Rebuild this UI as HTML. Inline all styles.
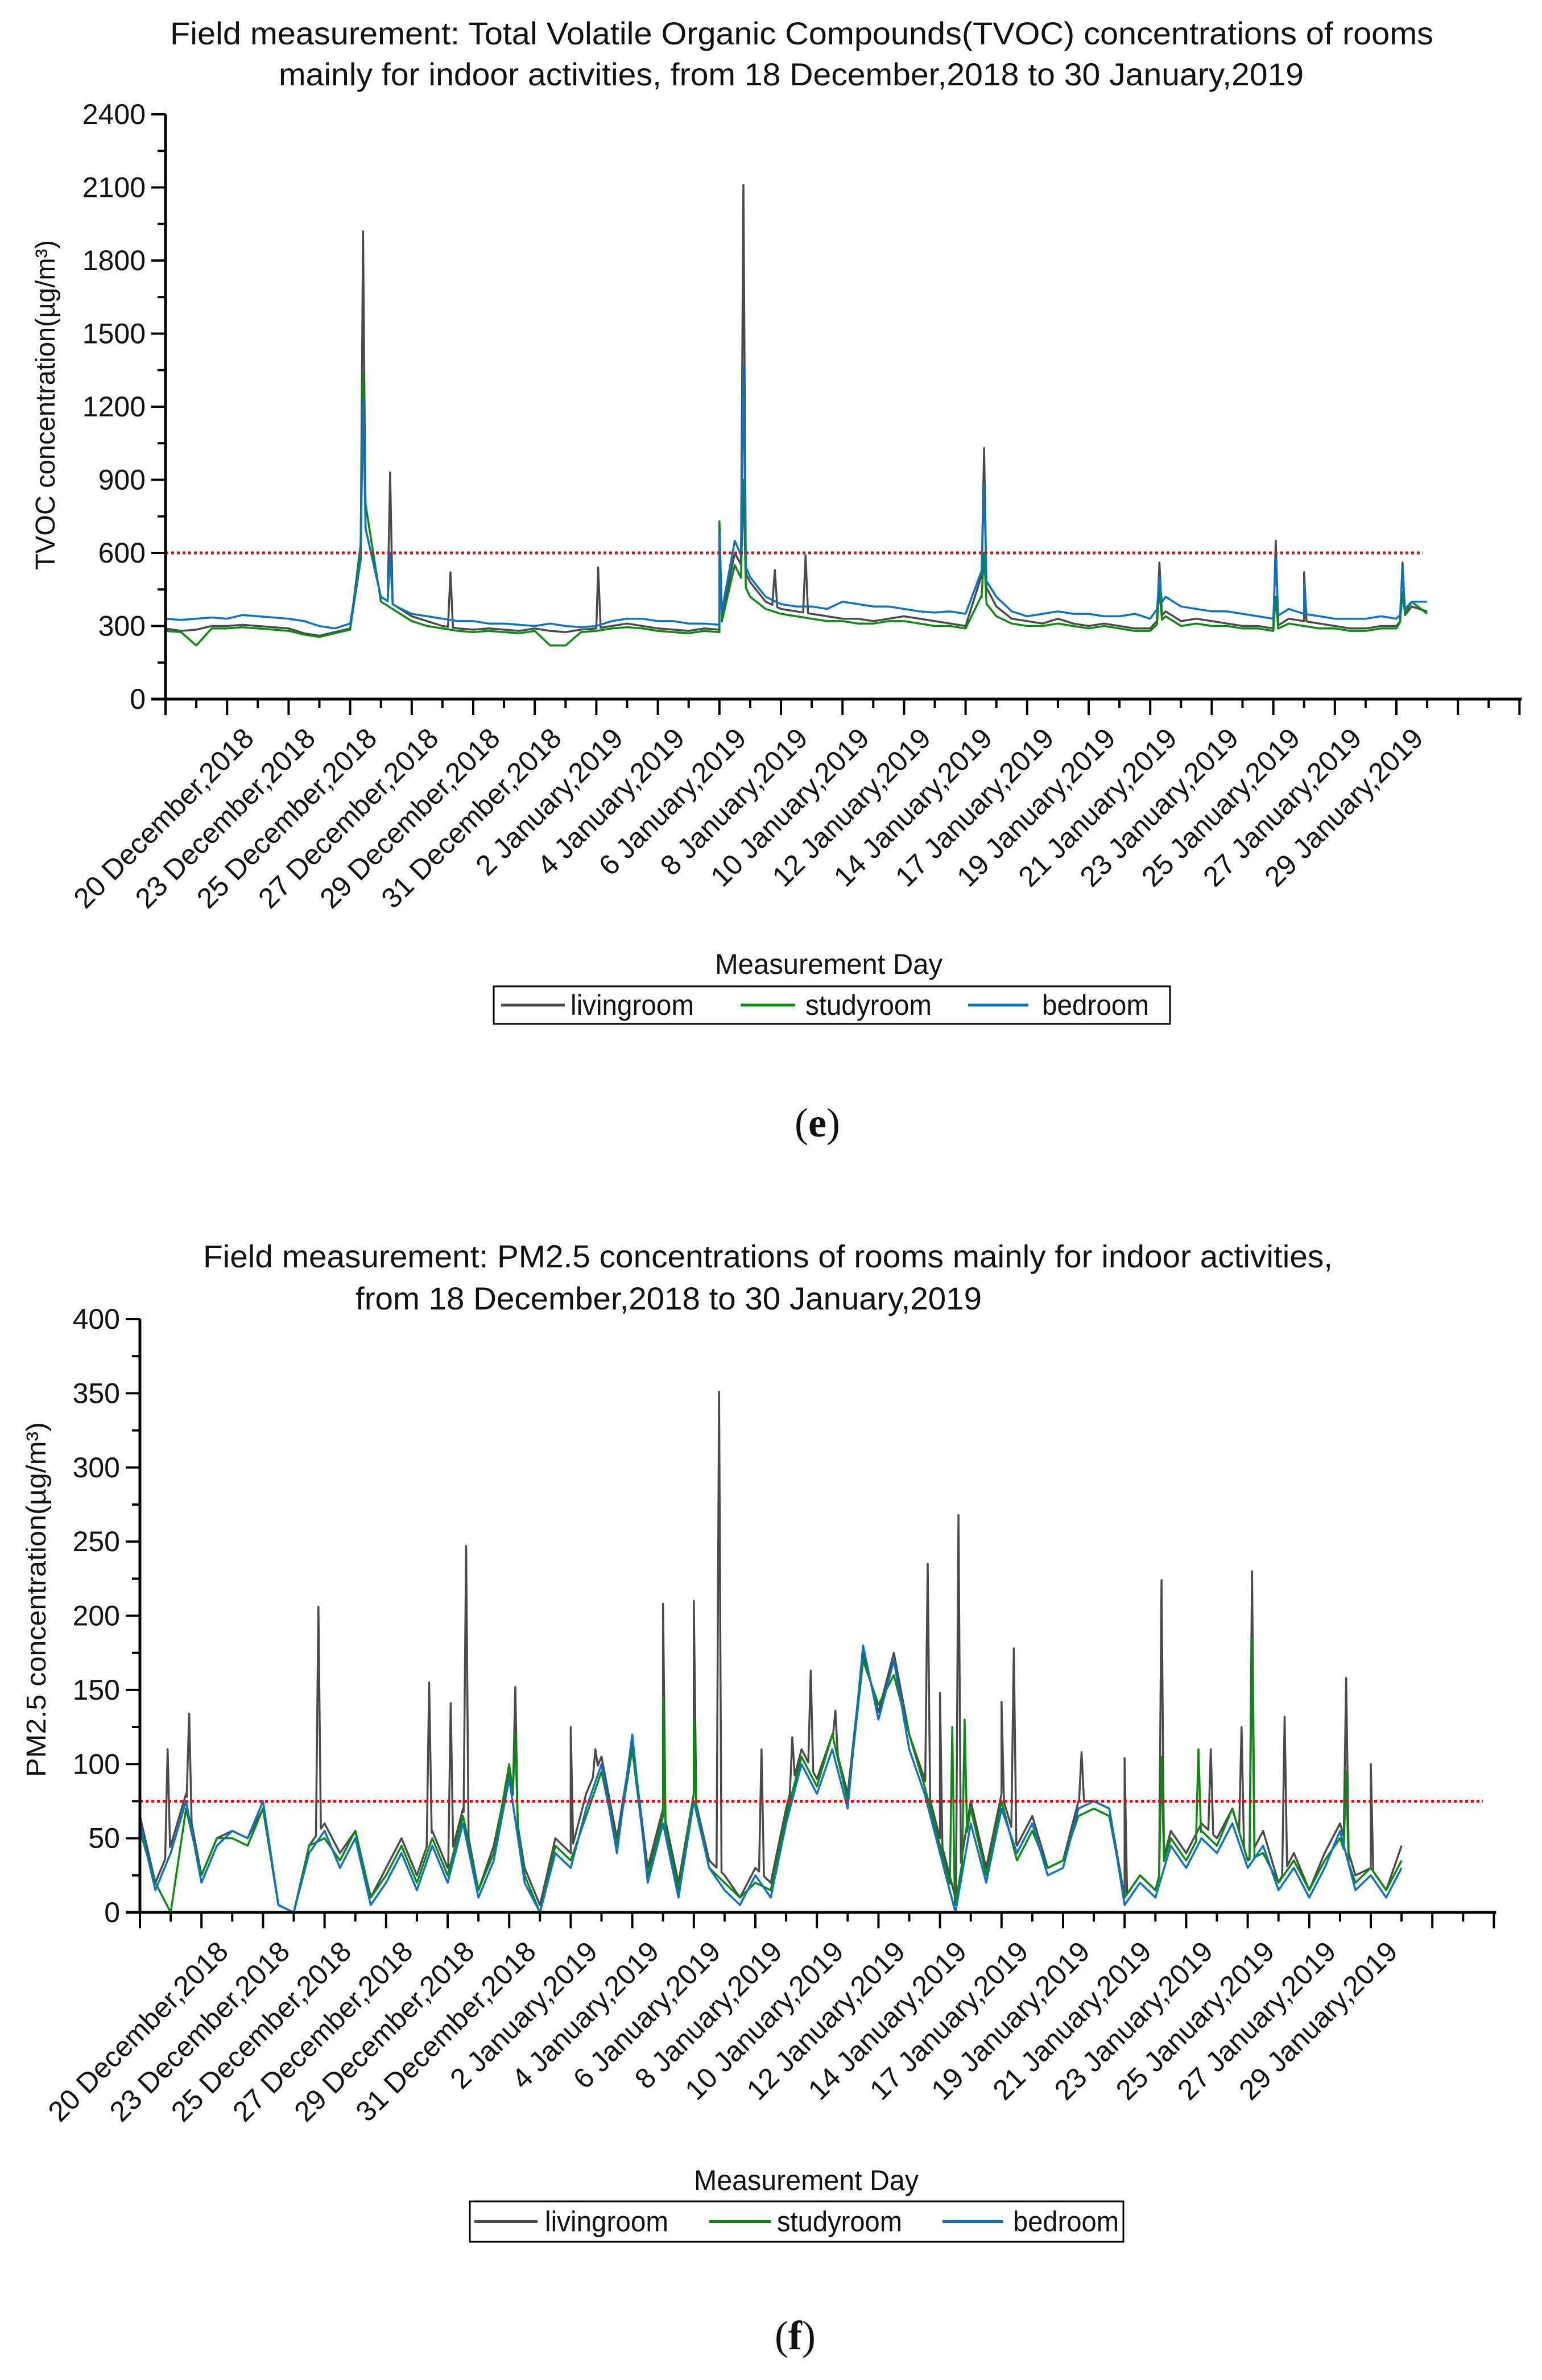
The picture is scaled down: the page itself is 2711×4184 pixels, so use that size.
<!DOCTYPE html>
<html><head><meta charset="utf-8">
<style>
html,body{margin:0;padding:0;background:#fff;}
svg{display:block;font-family:"Liberation Sans Narrow","Liberation Sans",sans-serif;}
</style></head>
<body>
<svg id="root" width="2711" height="4184" viewBox="0 0 2711 4184" xmlns="http://www.w3.org/2000/svg">
<g id="chartE"></g>
<g id="chartF"></g>
</svg>
<script>
// ---------- Shared axis labels ----------
const xTickLabels = ["20 December,2018","23 December,2018","25 December,2018","27 December,2018","29 December,2018","31 December,2018","2 January,2019","4 January,2019","6 January,2019","8 January,2019","10 January,2019","12 January,2019","14 January,2019","17 January,2019","19 January,2019","21 January,2019","23 January,2019","25 January,2019","27 January,2019","29 January,2019"];

// ---------- TVOC data (values every 0.25 tick-interval) ----------
const tvocYTicks = [0,300,600,900,1200,1500,1800,2100,2400];
const tvocLiving = [290,280,285,300,300,305,300,295,290,270,260,275,290,700,420,380,340,320,300,290,285,290,285,280,290,280,275,285,290,300,310,300,290,285,280,290,285,600,480,400,370,360,350,340,330,330,320,330,340,330,320,310,300,500,380,330,320,310,330,310,300,310,300,290,290,360,320,330,320,310,300,300,290,330,320,310,300,290,290,300,300,380,360];
const tvocStudy = [280,275,220,290,290,295,290,285,280,265,255,270,285,800,400,360,320,300,290,280,275,280,275,270,280,220,220,275,280,290,295,290,280,275,270,280,275,550,420,370,350,340,330,320,320,310,310,320,320,310,300,300,290,420,340,310,300,300,310,300,290,300,290,280,280,340,300,310,300,300,290,290,280,310,300,290,290,280,280,290,290,400,350];
const tvocBed = [330,325,330,335,330,345,340,335,330,320,300,290,310,700,420,380,350,340,330,320,320,310,310,305,300,310,300,295,300,320,330,330,320,320,310,310,305,650,500,420,390,380,380,370,400,390,380,380,370,360,355,360,350,520,420,360,340,350,360,350,350,340,340,350,330,420,380,370,360,360,350,340,330,370,350,340,330,330,330,340,330,400,400];
const tvocLivingSpikeT = [3.21,3.65,4.63,7.03,9.0,9.39,9.9,10.4,13.3,16.15,18.04,18.5,20.1];
const tvocLivingSpikeV = [1920,930,520,540,720,2110,530,590,1030,560,650,520,560];
const tvocStudySpikeT = [3.21,9.0,9.39,13.3,16.15,18.04,20.1];
const tvocStudySpikeV = [1340,730,900,600,450,420,440];
const tvocBedSpikeT = [3.21,3.65,9.0,9.39,13.3,16.15,18.04,18.5,20.1];
const tvocBedSpikeV = [1230,600,680,1370,880,500,580,470,540];
const tvocLimit = 600;

// ---------- PM2.5 data ----------
const pmYTicks = [0,50,100,150,200,250,300,350,400];
const pmBed = [60,15,40,75,20,45,55,50,75,5,0,40,55,30,50,5,20,40,15,45,20,60,10,35,90,20,0,40,30,70,100,40,120,20,60,10,75,30,15,5,25,10,60,100,80,110,70,180,130,170,110,80,40,0,60,20,70,40,60,25,30,70,75,70,5,20,10,45,30,50,40,60,30,45,15,30,10,30,55,15,25,10,30];
const pmStudy = [55,20,0,70,25,50,50,45,70,5,0,45,50,35,55,10,25,45,20,50,25,65,15,40,100,25,0,45,35,65,95,45,110,25,65,15,80,30,20,10,20,15,65,105,85,120,75,170,140,160,120,85,45,5,70,25,75,35,55,30,35,65,70,65,10,25,15,50,35,55,45,70,35,40,20,35,15,35,50,20,30,15,35];
const pmLiving = [65,20,45,80,25,50,55,50,70,5,0,45,60,40,55,10,30,50,25,55,30,70,15,45,95,30,5,50,40,80,105,50,115,30,70,20,80,35,25,10,30,20,70,110,90,120,80,175,135,175,120,90,50,10,75,30,80,45,65,30,35,75,75,70,10,25,15,55,40,60,50,70,35,55,20,40,15,40,60,25,30,15,45];
const pmLivingSpikeT = [0.45,0.8,2.9,4.7,5.05,5.3,6.1,7.0,7.4,8.5,9.0,9.41,10.1,10.6,10.9,11.3,12.8,13.0,13.3,14.0,14.2,15.3,16.0,16.6,17.4,17.9,18.07,18.6,19.6,20.0];
const pmLivingSpikeV = [110,134,206,155,141,247,152,125,110,208,210,351,110,118,163,136,235,148,268,142,178,108,104,224,110,125,230,132,158,100];
const pmStudySpikeT = [6.1,8.5,9.0,13.2,13.4,16.6,17.2,18.07,19.6];
const pmStudySpikeV = [120,145,130,125,130,105,110,185,95];
const pmLimit = 75;

const NS = "http://www.w3.org/2000/svg";
function mk(parent, tag, attrs, text){
  const el = document.createElementNS(NS, tag);
  for (const k in attrs) el.setAttribute(k, attrs[k]);
  if (text !== undefined) el.textContent = text;
  parent.appendChild(el);
  return el;
}
function mergeSeries(base, sT, sV){
  const pts = base.map((v,i)=>[i*0.25, v]);
  const baseAt = t => { const i=Math.min(Math.floor(t/0.25), base.length-2); const f=t/0.25-i; return base[i]*(1-f)+base[i+1]*f; };
  sT.forEach((t,k)=>{ pts.push([t-0.04, baseAt(t-0.04)]); pts.push([t, sV[k]]); pts.push([t+0.04, baseAt(t+0.04)]); });
  pts.sort((a,b)=>a[0]-b[0]);
  return pts;
}

function drawChart(g, cfg){
  const xs = t => cfg.x0 + t*cfg.dx;
  const ys = v => cfg.y0 - (v/cfg.ymax)*(cfg.y0-cfg.y1);
  cfg.titles.forEach(tt=>{
    const el = mk(g,'text',{x:tt.x,y:tt.y,'font-size':56,textLength:tt.w,lengthAdjust:'spacingAndGlyphs',fill:'#111'}, tt.s);
    
    
  });
  const colors = {living:'#4a4a4a', study:'#0a8a10', bed:'#0b72c4'};
  cfg.series.forEach(s=>{
    const pts = mergeSeries(s.base, s.sT, s.sV);
    const d = pts.map((p,i)=>(i?'L':'M')+xs(p[0]).toFixed(1)+' '+ys(p[1]).toFixed(1)).join(' ');
    const p = mk(g,'path',{d:d,fill:'none',stroke:colors[s.key],'stroke-width':3.5,'stroke-linejoin':'round'});
    
    
  });
  const lim = mk(g,'line',{x1:cfg.x0,x2:cfg.limEnd,y1:ys(cfg.limit),y2:ys(cfg.limit),stroke:'#e01010','stroke-width':5,'stroke-dasharray':'5 5'});
  
  
  const ya = mk(g,'line',{x1:cfg.x0,x2:cfg.x0,y1:cfg.y1,y2:cfg.y0+2,stroke:'#000','stroke-width':5});
  
  
  const xa = mk(g,'line',{x1:cfg.x0-25,x2:cfg.x0+22*cfg.dx+4,y1:cfg.y0,y2:cfg.y0,stroke:'#000','stroke-width':5});
  
  
  cfg.yTicks.forEach((v,i)=>{
    mk(g,'line',{x1:cfg.x0-25,x2:cfg.x0,y1:ys(v),y2:ys(v),stroke:'#000','stroke-width':4});
    if (i < cfg.yTicks.length-1){ const m=(v+cfg.yTicks[i+1])/2; mk(g,'line',{x1:cfg.x0-14,x2:cfg.x0,y1:ys(m),y2:ys(m),stroke:'#000','stroke-width':4}); }
    const t = mk(g,'text',{x:cfg.x0-35,y:ys(v)+17,'font-size':50,'text-anchor':'end',fill:'#111'}, String(v));
    
    
  });
  for (let i=0;i<=22;i++){
    mk(g,'line',{x1:xs(i),x2:xs(i),y1:cfg.y0,y2:cfg.y0+28,stroke:'#000','stroke-width':4});
    if (i<22) mk(g,'line',{x1:xs(i+0.5),x2:xs(i+0.5),y1:cfg.y0,y2:cfg.y0+16,stroke:'#000','stroke-width':4});
  }
  xTickLabels.forEach((lab,i)=>{
    const tx = xs(i+1)+50, ty = cfg.y0+72;
    const t = mk(g,'text',{x:tx,y:ty,'font-size':50,'text-anchor':'end',fill:'#111',transform:`rotate(-45 ${tx} ${ty})`}, lab);
    
    
  });
  const yt = mk(g,'text',{x:0,y:0,'font-size':48,'text-anchor':'middle',fill:'#111',textLength:cfg.ytLen,lengthAdjust:'spacingAndGlyphs',style:'font-family:"Liberation Sans",sans-serif',transform:`translate(${cfg.ytX} ${cfg.ytY}) rotate(-90)`}, cfg.ytitle);
  
  
  const xt = mk(g,'text',{x:cfg.xtX,y:cfg.xtY,'font-size':50,textLength:cfg.xtW,lengthAdjust:'spacingAndGlyphs',fill:'#111'}, 'Measurement Day');
  
  
  const L = cfg.legend;
  const lg = mk(g,'g',{});
  
  
  mk(lg,'rect',{x:L.x,y:L.y,width:L.w,height:L.h,fill:'#fff',stroke:'#000','stroke-width':3});
  L.items.forEach(it=>{
    const e = mk(lg,'g',{});
    
    
    mk(e,'line',{x1:it.lx1,x2:it.lx2,y1:L.y+L.h/2,y2:L.y+L.h/2,stroke:colors[it.key],'stroke-width':5});
    mk(e,'text',{x:it.tx,y:L.y+L.h/2+17,'font-size':50,textLength:it.tw,lengthAdjust:'spacingAndGlyphs',fill:'#111'}, it.name);
  });
  const pl = mk(g,'text',{x:cfg.plX,y:cfg.plY,'font-size':72,'text-anchor':'middle',fill:'#111',style:'font-family:"Liberation Serif",serif'});
  
  
  mk(pl,'tspan',{},'(');
  mk(pl,'tspan',{'font-weight':'bold'},cfg.panel);
  mk(pl,'tspan',{},')');
}

drawChart(document.getElementById('chartE'), {
  x0:291, dx:108.2, y0:1229, y1:201, ymax:2400, yTicks:tvocYTicks, limit:tvocLimit, limEnd:2502,
  titles:[{s:'Field measurement: Total Volatile Organic Compounds(TVOC) concentrations of  rooms',x:299,y:78,w:2221},
          {s:'mainly for indoor activities, from 18 December,2018 to 30 January,2019',x:490,y:150,w:1802}],
  series:[{key:'living',base:tvocLiving,sT:tvocLivingSpikeT,sV:tvocLivingSpikeV},
          {key:'study',base:tvocStudy,sT:tvocStudySpikeT,sV:tvocStudySpikeV},
          {key:'bed',base:tvocBed,sT:tvocBedSpikeT,sV:tvocBedSpikeV}],
  ytitle:'TVOC concentration(µg/m³)', ytX:96, ytY:712, ytLen:580,
  xtX:1257, xtY:1712, xtW:400,
  legend:{x:868,y:1734,w:1189,h:66,items:[
    {key:'living',name:'livingroom',lx1:881,lx2:993,tx:1003,tw:217},
    {key:'study',name:'studyroom',lx1:1302,lx2:1398,tx:1416,tw:222},
    {key:'bed',name:'bedroom',lx1:1702,lx2:1808,tx:1832,tw:188}]},
  plX:1437, plY:1998, panel:'e'
});

drawChart(document.getElementById('chartF'), {
  x0:246, dx:108.2, y0:3362, y1:2319, ymax:400, yTicks:pmYTicks, limit:pmLimit, limEnd:2607,
  titles:[{s:'Field measurement: PM2.5 concentrations of  rooms mainly for indoor activities,',x:357,y:2228,w:1986},
          {s:'from 18 December,2018 to 30 January,2019',x:625,y:2302,w:1101}],
  series:[{key:'living',base:pmLiving,sT:pmLivingSpikeT,sV:pmLivingSpikeV},
          {key:'study',base:pmStudy,sT:pmStudySpikeT,sV:pmStudySpikeV},
          {key:'bed',base:pmBed,sT:[],sV:[]}],
  ytitle:'PM2.5 concentration(µg/m³)', ytX:80, ytY:2812, ytLen:624,
  xtX:1220, xtY:3850, xtW:395,
  legend:{x:826,y:3870,w:1149,h:71,items:[
    {key:'living',name:'livingroom',lx1:834,lx2:945,tx:958,tw:217},
    {key:'study',name:'studyroom',lx1:1247,lx2:1355,tx:1366,tw:220},
    {key:'bed',name:'bedroom',lx1:1657,lx2:1763,tx:1781,tw:186}]},
  plX:1398, plY:4130, panel:'f'
});
</script>
</body></html>
